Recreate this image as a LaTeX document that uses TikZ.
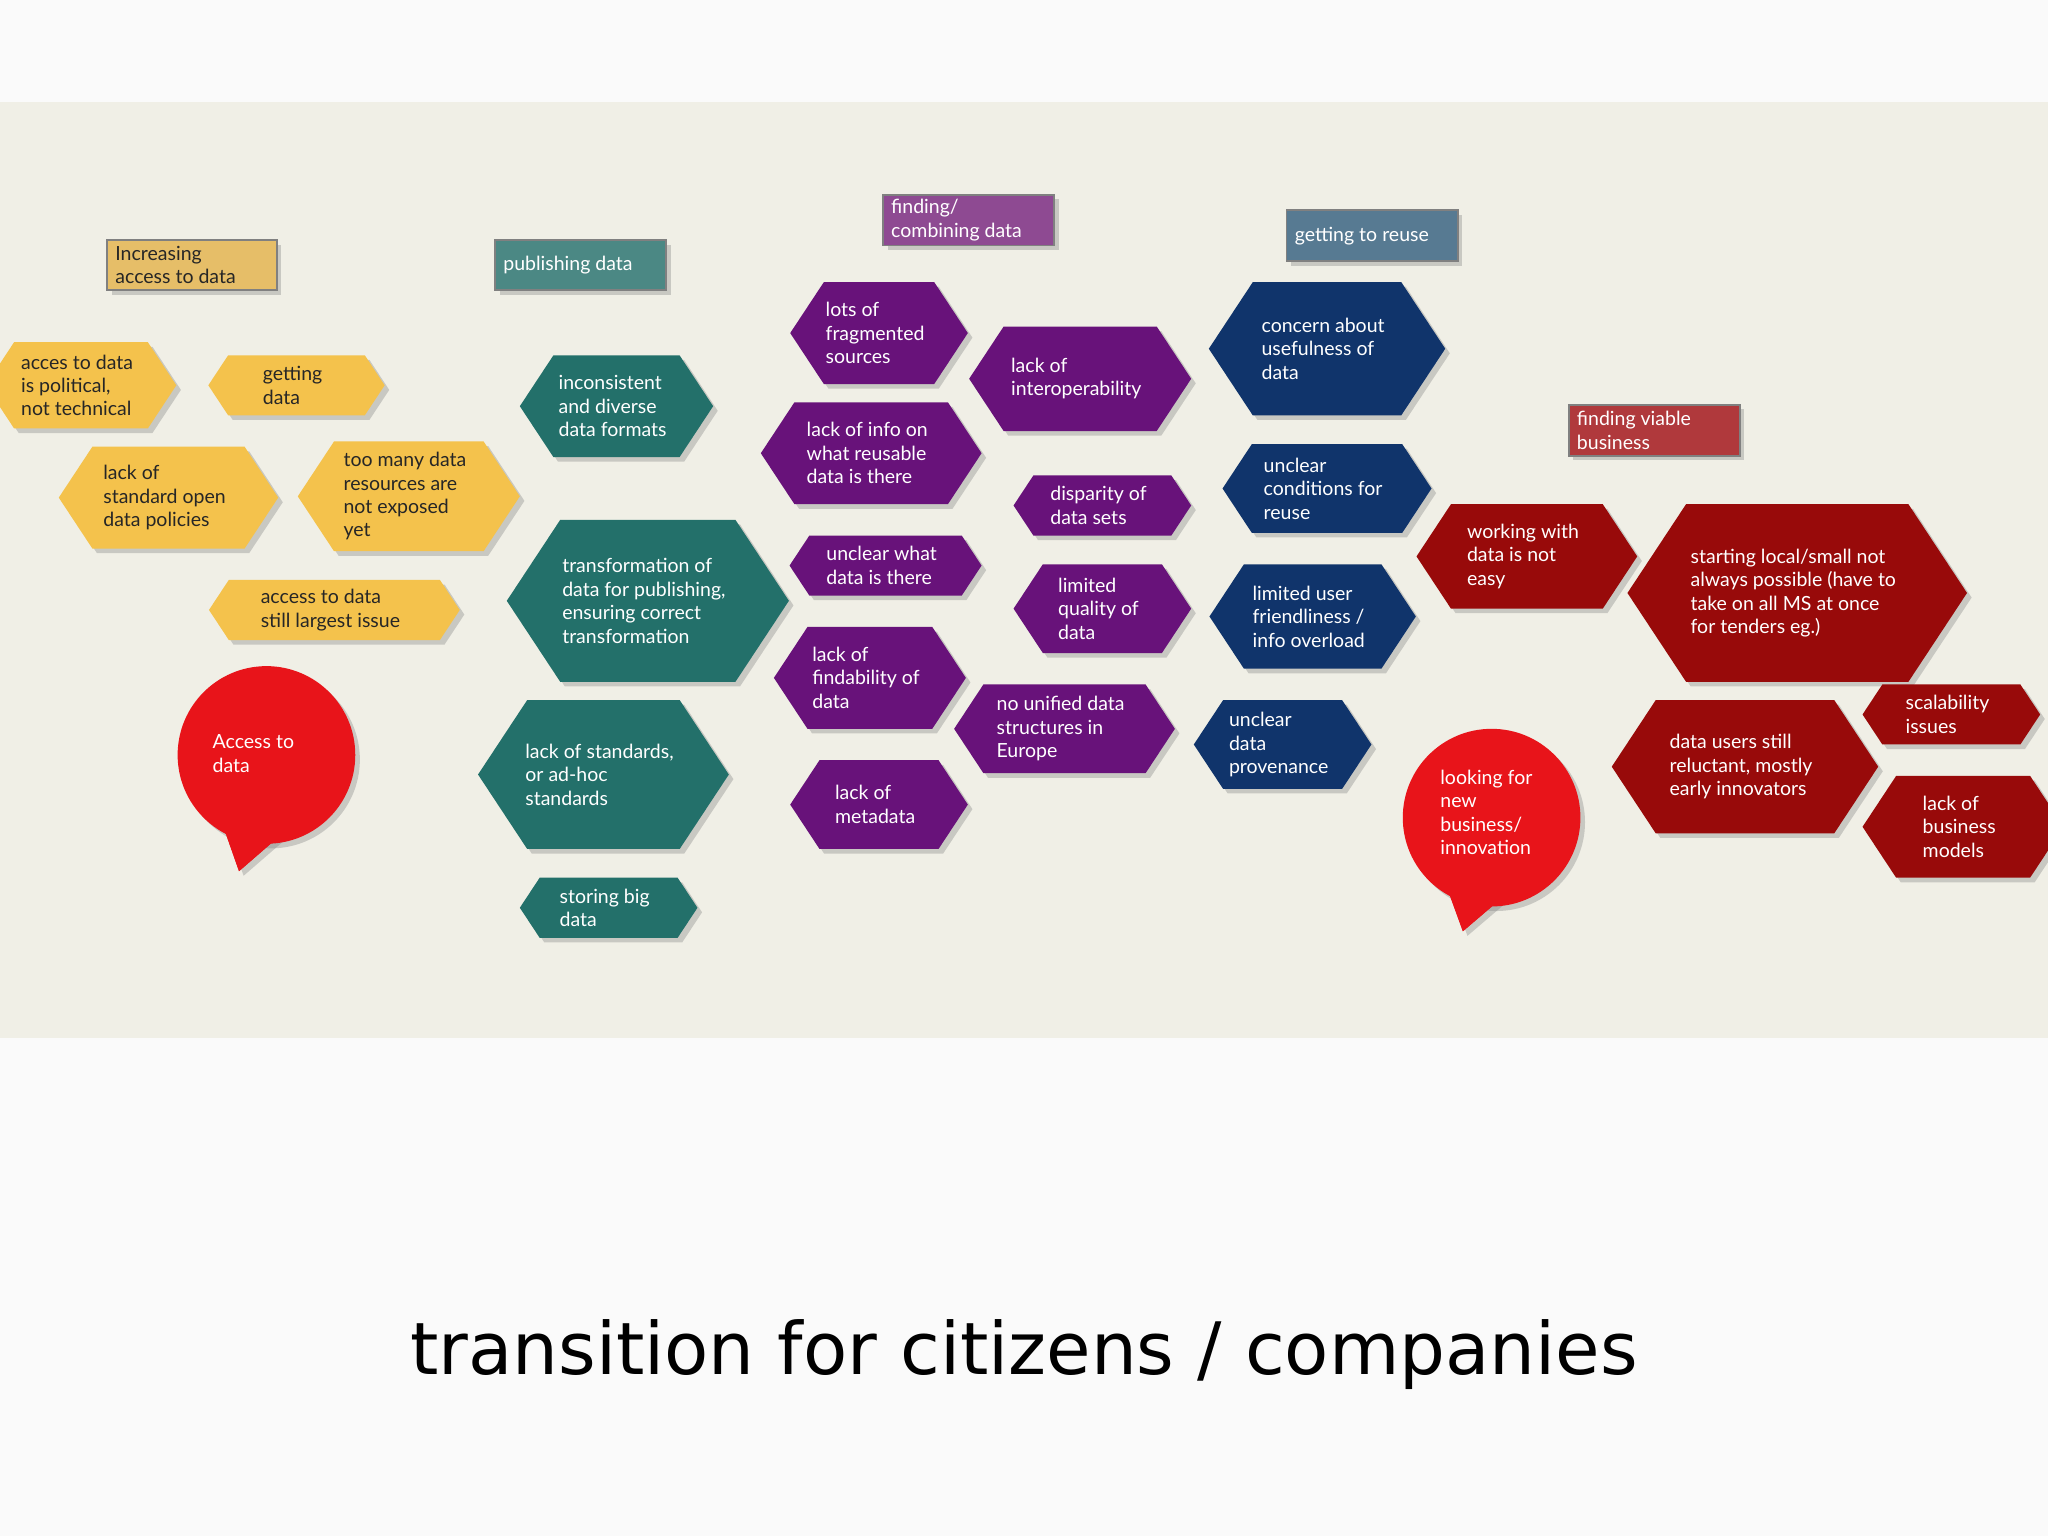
\documentclass[tikz,border=0pt]{standalone}
\usepackage{fontspec}
\setmainfont{Lato}
\newfontfamily\titlefont{DejaVu Sans}
\usetikzlibrary{shadows}
\definecolor{band}{HTML}{F0EFE6}
\definecolor{yel}{HTML}{F4C24C}
\definecolor{teal}{HTML}{23706A}
\definecolor{purp}{HTML}{68127A}
\definecolor{navy}{HTML}{10346B}
\definecolor{dred}{HTML}{980A0A}
\definecolor{cred}{HTML}{E8141A}
\definecolor{labyel}{HTML}{E6BE68}
\definecolor{labteal}{HTML}{4B8884}
\definecolor{labpurp}{HTML}{8E4A92}
\definecolor{labnavy}{HTML}{577A92}
\definecolor{labred}{HTML}{B0393C}
\tikzset{
  txt/.style={align=left,font=\fontsize{8.5}{10.2}\selectfont,text=white,inner sep=0pt},
  shad/.style={drop shadow={opacity=0.35,shadow xshift=2pt,shadow yshift=-2pt}},
  lab/.style={draw=black!50,line width=0.8pt,shad}
}
\newcommand\hx[7][white]{%
 \fill[#6,shad] ({#2-#4/2},#3) -- ({#2-#4/2+0.33*#5},{#3-#5/2}) -- ({#2+#4/2-0.33*#5},{#3-#5/2}) -- ({#2+#4/2},#3) -- ({#2+#4/2-0.33*#5},{#3+#5/2}) -- ({#2-#4/2+0.33*#5},{#3+#5/2}) -- cycle;
 \node[txt,text=#1] at ({#2-3},#3) {#7};}
\newcommand\lb[7]{%
 \fill[#5,lab] (#1,#2) rectangle (#3,#4);
 \node[txt,text=#6,anchor=west] at ({#1+6},{(#2+#4)/2}) {#7};}
\begin{document}
\begin{tikzpicture}[x=0.02cm,y=-0.02cm]
\useasboundingbox[fill=white!98!black] (0,0) rectangle (1568,1176);
\fill[band] (0,78) rectangle (1568,795);
% labels
\lb{82}{184}{212}{222}{labyel}{black!85}{Increasing\\access to data}
\lb{379}{184}{510}{222}{labteal}{white}{publishing data}
\lb{676}{149}{807}{188}{labpurp}{white}{finding/\\combining data}
\lb{985}{161}{1116}{200}{labnavy}{white}{getting to reuse}
\lb{1201}{310}{1332}{349}{labred}{white}{finding viable\\business}
% yellow
\hx[black!85]{62}{295}{146}{66}{yel}{acces to data\\is political,\\not technical}
\hx[black!85]{227}{295}{135}{46}{yel}{getting\\data}
\hx[black!85]{129}{381}{168}{78}{yel}{lack of\\standard open\\data policies}
\hx[black!85]{313}{380}{170}{84}{yel}{too many data\\resources are\\not exposed\\yet}
\hx[black!85]{256}{467}{192}{46}{yel}{access to data\\still largest issue}
% callouts
\fill[cred,shad] (170,630) -- (183,667) -- (228,628) -- cycle;
\fill[cred,shad] (204,578) circle (68);
\fill[cred] (170,630) -- (183,667) -- (228,628) -- cycle;
\node[txt] at (194,577) {Access to\\data};
\fill[cred,shad] (1108,680) -- (1120,713) -- (1168,672) -- cycle;
\fill[cred,shad] (1142,626) circle (68);
\fill[cred] (1108,680) -- (1120,713) -- (1168,672) -- cycle;
\node[txt] at (1138,622) {looking for\\new\\business/\\innovation};
% teal
\hx{472}{311}{148}{78}{teal}{inconsistent\\and diverse\\data formats}
\hx{496}{460}{216}{124}{teal}{transformation of\\data for publishing,\\ensuring correct\\transformation}
\hx{462}{593}{192}{114}{teal}{lack of standards,\\or ad-hoc\\standards}
\hx{466}{695}{136}{46}{teal}{storing big\\data}
% purple
\hx{673}{255}{136}{78}{purp}{lots of\\fragmented\\sources}
\hx{667}{347}{169}{78}{purp}{lack of info on\\what reusable\\data is there}
\hx{678}{433}{147}{46}{purp}{unclear what\\data is there}
\hx{666}{519}{147}{78}{purp}{lack of\\findability of\\data}
\hx{673}{616}{136}{68}{purp}{lack of\\metadata}
\hx{827}{290}{170}{80}{purp}{lack of\\interoperability}
\hx{844}{387}{136}{46}{purp}{disparity of\\data sets}
\hx{844}{466}{136}{68}{purp}{limited\\quality of\\data}
\hx{815}{558}{169}{68}{purp}{no unified data\\structures in\\Europe}
% navy
\hx{1016}{267}{181}{102}{navy}{concern about\\usefulness of\\data}
\hx{1016}{374}{160}{68}{navy}{unclear\\conditions for\\reuse}
\hx{1005}{472}{158}{80}{navy}{limited user\\friendliness /\\info overload}
\hx{982}{570}{136}{68}{navy}{unclear\\data\\provenance}
% dark red
\hx{1169}{426}{169}{80}{dred}{working with\\data is not\\easy}
\hx{1376}{454}{260}{136}{dred}{starting local/small not\\always possible (have to\\take on all MS at once\\for tenders eg.)}
\hx{1494}{547}{136}{46}{dred}{scalability\\issues}
\hx{1336}{587}{204}{102}{dred}{data users still\\reluctant, mostly\\early innovators}
\hx{1503}{633}{154}{78}{dred}{lack of\\business\\models}
% title
\node[inner sep=0pt] (title) at (784,1037) {\resizebox{18.8cm}{!}{\titlefont transition for citizens / companies}};
\end{tikzpicture}
\end{document}
